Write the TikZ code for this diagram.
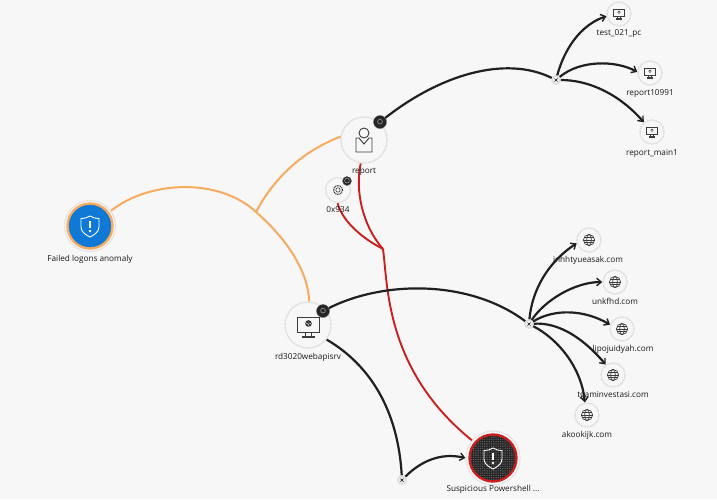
\documentclass[tikz,border=0pt]{standalone}
\usepackage{fontspec}
\setmainfont{Open Sans}
\usetikzlibrary{arrows.meta,patterns.meta}
\definecolor{bgc}{HTML}{F7F7F7}
\definecolor{orangeln}{HTML}{F7AB5E}
\definecolor{redln}{HTML}{C8201E}
\definecolor{blackln}{HTML}{202020}
\definecolor{ringc}{HTML}{DEDCD8}
\definecolor{bluec}{HTML}{1079D6}
\definecolor{darkc}{HTML}{262626}
\definecolor{iconc}{HTML}{3C3C3C}
\tikzset{
  x=1pt,y=-1pt,
  ent/.style={circle,draw=ringc,line width=1.5pt,dash pattern=on .8pt off .6pt,fill=bgc,inner sep=0pt,minimum size=#1},
  halo/.style={circle,draw=ringc,line width=1.2pt,dash pattern=on .8pt off .6pt,inner sep=0pt,minimum size=#1},
  solident/.style={circle,line width=2.4pt,inner sep=0pt,minimum size=#1},
  junc/.style={circle,draw=ringc,line width=1.6pt,fill=bgc,inner sep=0pt,minimum size=8pt},
  badge/.style={circle,fill=darkc,draw=darkc!70,inner sep=0pt,minimum size=#1},
  lab/.style={font=\fontsize{8.2}{9}\selectfont,text=black!90,inner sep=0pt,text height=6pt,text depth=1pt},
  og/.style={draw=orangeln,line width=2pt},
  rd/.style={draw=redln,line width=1.9pt},
  bk/.style={draw=blackln,line width=2.2pt},
  ar/.style={bk,-{Straight Barb[length=4.5pt,width=7.5pt,line width=1.4pt]}},
  ic/.style={draw=iconc,line width=.7pt},
  wh/.style={draw=white,line width=.9pt},
}
\newcommand{\shieldicon}[2]{%
  \draw[wh] (#1,#2-10) .. controls (#1+3,#2-8) and (#1+6,#2-7.5) .. (#1+9,#2-7.5)
     -- (#1+9,#2+1) .. controls (#1+9,#2+6) and (#1+4,#2+9) .. (#1,#2+11)
     .. controls (#1-4,#2+9) and (#1-9,#2+6) .. (#1-9,#2+1) -- (#1-9,#2-7.5)
     .. controls (#1-6,#2-7.5) and (#1-3,#2-8) .. (#1,#2-10) -- cycle;
  \fill[white] (#1-1.1,#2-5) rectangle (#1+1.1,#2+2.4);
  \fill[white] (#1,#2+5) circle (1.4);
}
\newcommand{\monitoricon}[3]{%
  \begin{scope}[shift={(#1,#2)},scale=#3]
    \draw[ic] (-11,-8) rectangle (11,7);
    \draw[ic] (-3,7) -- (-3,11) (3,7) -- (3,11);
    \draw[ic,line width=1.1pt] (-6.5,12) -- (6.5,12);
    \fill[iconc] (0,-1.5) circle (3.4);
    \draw[white,line width=.4pt] (-3.2,-2.2) -- (0,-.8) -- (3.2,-2.2) (0,-.8) -- (0,1.8);
  \end{scope}
}
\newcommand{\globeicon}[2]{%
  \begin{scope}[shift={(#1,#2)}]
    \draw[ic] (0,0) circle (5.6);
    \draw[ic] (0,0) ellipse (2.4 and 5.6);
    \draw[ic] (-5.6,0) -- (5.6,0) (-5,-2.6) -- (5,-2.6) (-5,2.6) -- (5,2.6);
  \end{scope}
}
\begin{document}
\begin{tikzpicture}
\useasboundingbox[fill=bgc] (0,0) rectangle (717,499);

% entity circles
\node[halo=51pt] (failedhalo) at (90,226) {};
\node[ent=46pt] (report) at (364,140) {};
\node[ent=25pt] (proc) at (338,190) {};
\node[ent=46pt] (rd) at (308,325) {};
\node[halo=54pt] (susphalo) at (493,458) {};
\node[junc] (j1) at (556,80) {};
\node[junc] (j2) at (529,324) {};
\node[junc] (j3) at (402,480) {};
\coordinate (joinA) at (256,212);
\coordinate (joinB) at (383,249);
\node[ent=24pt] (t1) at (619,14) {};
\node[ent=24pt] (t2) at (650,73) {};
\node[ent=24pt] (t3) at (652,132) {};
\node[ent=24pt] (d1) at (589,240) {};
\node[ent=24pt] (d2) at (615,282) {};
\node[ent=24pt] (d3) at (622,329) {};
\node[ent=24pt] (d4) at (613,375) {};
\node[ent=24pt] (d5) at (587,415) {};

% connectors
\draw[og] (failedhalo.36) .. controls (150,180) and (220,178) .. (joinA)
   .. controls (288,240) and (308,272) .. (rd.87);
\draw[og] (report.172) .. controls (305,150) and (275,176) .. (joinA);
\draw[rd] (report.262) .. controls (355,190) and (362,225) .. (joinB);
\draw[rd] (proc.268) .. controls (343,222) and (362,238) .. (joinB);
\draw[rd] (joinB) .. controls (388,285) and (385,370) .. (susphalo.140);
\node[badge=13pt] (b1) at (380,122) {};
\node[badge=9pt] (b2) at (347,181) {};
\node[badge=13pt] (b3) at (323,311) {};
\draw[bk] (b1) .. controls (440,75) and (505,55) .. (j1);
\draw[bk] (b3) .. controls (385,280) and (470,280) .. (j2);
\draw[bk] (rd.-38) .. controls (370,365) and (398,410) .. (j3);
\draw[ar] (j3) .. controls (420,462) and (440,452) .. (susphalo.180);
\draw[ar] (j1) .. controls (564,50) and (580,25) .. (t1.190);
\draw[ar] (j1) .. controls (580,60) and (615,60) .. (t2.175);
\draw[ar] (j1) .. controls (590,80) and (620,95) .. (t3.130);
\draw[ar] (j2) .. controls (532,290) and (548,262) .. (d1.195);
\draw[ar] (j2) .. controls (545,300) and (575,282) .. (d2.180);
\draw[ar] (j2) .. controls (555,308) and (585,310) .. (d3.160);
\draw[ar] (j2) .. controls (560,322) and (585,340) .. (d4.125);
\draw[ar] (j2) .. controls (560,340) and (582,370) .. (d5.100);

% filled alert nodes
\node[solident=45pt,draw=orangeln,fill=bluec] (failed) at (90,226) {};
\node[solident=47pt,draw=redln,fill=darkc] (susp) at (493,458) {};
\fill[pattern={Dots[distance=1.8pt,radius=.35pt]},pattern color=white!55!darkc] (493,458) circle (22);
\shieldicon{90}{226}
\shieldicon{493}{458}
\foreach \n in {b1,b2,b3}{
  \draw[white!55!darkc,line width=.6pt] ([shift={(0,-.4)}]\n.center) circle (2.4);
}

% icons
\begin{scope}[shift={(364,140)}]
  \draw[ic,line width=.9pt] (0,-7) circle (5);
  \draw[ic,line width=.9pt] (-5,-2) -- (-8,-2) -- (-8,12) -- (8,12) -- (8,-2) -- (5,-2) -- (0,4) -- cycle;
\end{scope}
\begin{scope}[shift={(338,190)}]
  \draw[ic,dash pattern=on 1pt off .8pt,line width=1.2pt] (0,0) circle (4.6);
  \draw[ic,line width=.6pt] (0,0) circle (2.2);
\end{scope}
\monitoricon{308.5}{325}{1}
\monitoricon{619}{13}{.5}
\monitoricon{650}{72}{.5}
\monitoricon{652}{131}{.5}
\globeicon{589}{240}
\globeicon{615}{282}
\globeicon{622}{329}
\globeicon{613}{375}
\globeicon{587}{415}
\foreach \n in {j1,j2,j3}{
  \draw[blackln,line width=.7pt] ([shift={(-1.5,-1.5)}]\n.center) -- ([shift={(1.5,1.5)}]\n.center)
    ([shift={(-1.5,1.5)}]\n.center) -- ([shift={(1.5,-1.5)}]\n.center);
}

% labels
\node[lab] (lfailed) at (90,259) {Failed logons anomaly};
\node[lab] (lreport) at (364,171) {report};
\node[lab] (lproc) at (338,210) {0x934};
\node[lab] (lrd) at (308,357) {rd3020webapisrv};
\node[lab] (lsusp) at (493,489) {Suspicious Powershell ...};
\node[lab] (lt1) at (619,33) {test\_021\_pc};
\node[lab] (lt2) at (650,93) {report10991};
\node[lab] (lt3) at (652,153) {report\_main1};
\node[lab] (ld1) at (588,260) {inhhtyueasak.com};
\node[lab] (ld2) at (615,302) {unkfhd.com};
\node[lab] (ld3) at (623,349) {lipojuidyah.com};
\node[lab] (ld4) at (613,395) {tgaminvestasi.com};
\node[lab] (ld5) at (587,435) {akookijk.com};
\end{tikzpicture}
\end{document}
